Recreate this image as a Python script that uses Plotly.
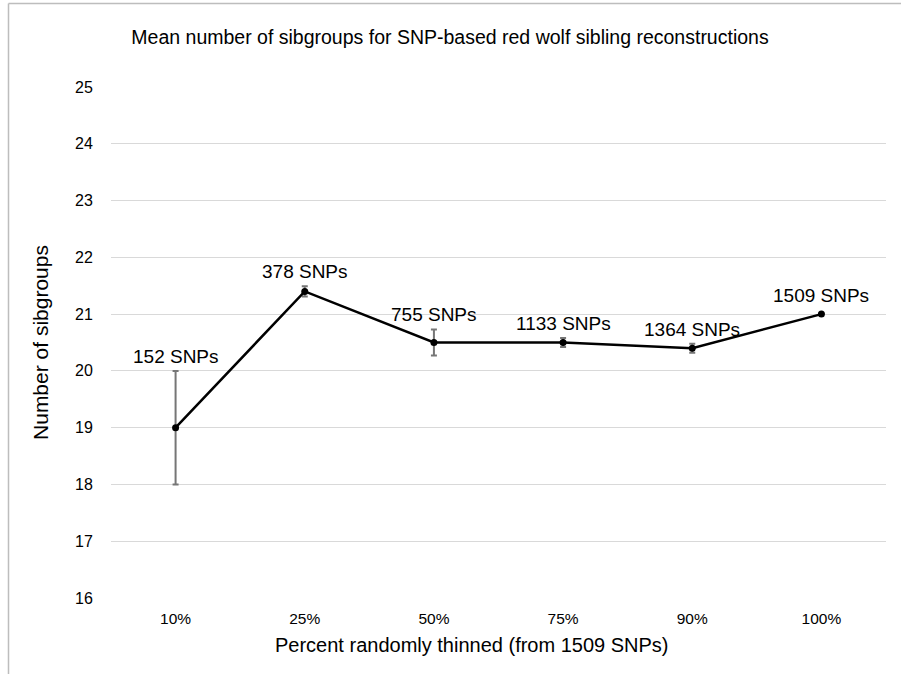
import plotly.graph_objects as go

categories = ["10%", "25%", "50%", "75%", "90%", "100%"]
mean_sibgroups = [19.0, 21.4, 20.5, 20.5, 20.4, 21.0]
error_plus_minus = [1.0, 0.09, 0.23, 0.08, 0.08, 0.0]
snp_labels = ["152 SNPs", "378 SNPs", "755 SNPs", "1133 SNPs", "1364 SNPs", "1509 SNPs"]
y_ticks = list(range(16, 26))

FONT = "Liberation Sans, Arial, Helvetica, sans-serif"

fig = go.Figure()
fig.add_trace(go.Scatter(
    x=categories, y=mean_sibgroups, mode="lines+markers",
    line=dict(color="black", width=2.5),
    marker=dict(color="black", size=7),
    error_y=dict(type="data", array=error_plus_minus, visible=True,
                 color="#767676", thickness=2, width=3),
    showlegend=False,
))

for cat, val, err, lab in zip(categories, mean_sibgroups, error_plus_minus, snp_labels):
    fig.add_annotation(x=cat, y=val + err, text=lab, showarrow=False,
                       yanchor="bottom", yshift=2 if err > 0 else 6,
                       font=dict(family=FONT, size=19, color="black"))

# thin frame at top and left (cropped chart border)
L, R, T, B = 111, 15, 87, 76
W, H = 901, 674
pw, ph = W - L - R, H - T - B
def px(x): return (x - L) / pw
def py(y): return (H - B - y) / ph
fig.add_shape(type="line", xref="paper", yref="paper", x0=px(8.5), x1=px(W + 5),
              y0=py(3.5), y1=py(3.5), line=dict(color="#bdbdbd", width=1.5))
fig.add_shape(type="line", xref="paper", yref="paper", x0=px(8.5), x1=px(8.5),
              y0=py(3.5), y1=py(H + 5), line=dict(color="#bdbdbd", width=1.5))

# x-axis title (offset left of plot centre as in the reference)
fig.add_annotation(xref="paper", yref="paper", x=px(472), y=py(645),
                   text="Percent randomly thinned (from 1509 SNPs)", showarrow=False,
                   xanchor="center", yanchor="middle",
                   font=dict(family=FONT, size=20, color="black"))

fig.update_layout(
    width=W, height=H,
    margin=dict(l=L, r=R, t=T, b=B),
    paper_bgcolor="white", plot_bgcolor="white",
    font=dict(family=FONT, color="black"),
    title=dict(text="Mean number of sibgroups for SNP-based red wolf sibling reconstructions",
               x=450 / W, xanchor="center", y=1 - 37 / H, yanchor="middle",
               font=dict(size=19.5, color="black")),
    xaxis=dict(
        type="category", range=[-0.5, len(categories) - 0.5],
        showgrid=False, showline=False, zeroline=False,
        ticks="outside", ticklen=6, tickcolor="rgba(0,0,0,0)",
        tickfont=dict(size=15.5),
    ),
    yaxis=dict(
        range=[16, 25], tickvals=y_ticks, showgrid=True, gridcolor="#d9d9d9",
        gridwidth=1, zeroline=False, showline=False,
        ticks="outside", ticklen=14, tickcolor="rgba(0,0,0,0)",
        tickfont=dict(size=16),
        title=dict(text="Number of sibgroups", font=dict(size=21), standoff=20),
    ),
)

fig.write_html("out.html")
